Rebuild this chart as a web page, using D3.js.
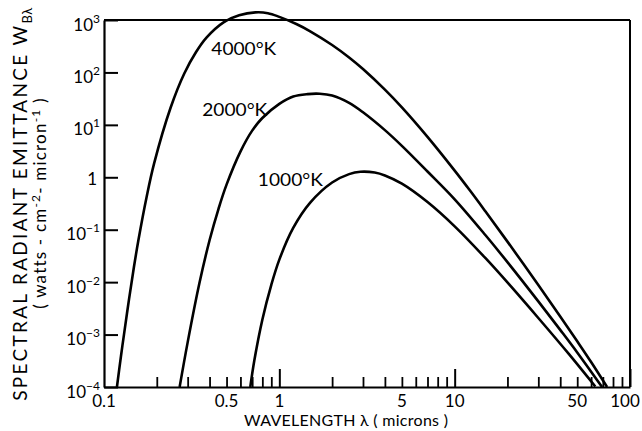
<!DOCTYPE html>
<html><head><meta charset="utf-8">
<script src="https://cdn.jsdelivr.net/npm/d3@7"></script>
<style>
body{margin:0;background:#fff}
svg{display:block;background:#fff}
text{font-family:Lato,"Noto Sans",sans-serif;fill:#000}
</style>
</head><body>
<svg id="c" width="642" height="431"></svg>
<script>
// ---- data ----
const temps = ["4000°K", "2000°K", "1000°K"];
const lam4000 = [0.1185, 0.125, 0.13, 0.139, 0.148, 0.157, 0.175, 0.193, 0.24, 0.287, 0.335, 0.383, 0.483, 0.59, 0.73, 0.86, 1.0, 1.25, 1.5, 2.0, 2.5, 3.0, 4.0, 5.0, 7.0, 10, 12.2, 15, 20, 30, 40, 50, 60, 74];
const w4000   = [1.0e-4, 3.9e-4, 1.0e-3, 4.8e-3, 0.019, 0.062, 0.42, 1.82, 21.4, 95.5, 245, 457, 912, 1230, 1396, 1349, 1148, 840, 610, 334, 193, 116, 46.9, 21.5, 5.89, 1.34, 0.564, 0.222, 0.0593, 0.0088, 0.00222, 7.43e-4, 2.99e-4, 1.0e-4];
const lam2000 = [0.270, 0.3, 0.35, 0.4, 0.45, 0.5, 0.6, 0.7, 0.8, 1.0, 1.2, 1.45, 1.7, 2.0, 2.5, 3.0, 4.0, 5.0, 7.0, 10, 15, 20, 30, 40, 50, 69.3];
const w2000   = [1.0e-4, 7.1e-4, 9.5e-3, 0.063, 0.251, 0.724, 3.09, 7.76, 13.5, 25.1, 34.7, 38.6, 39.2, 36.3, 26.3, 17.4, 7.94, 3.98, 1.29, 0.380, 0.0783, 0.0241, 0.0043, 0.00123, 4.57e-4, 1.0e-4];
const lam1000 = [0.683, 0.72, 0.8, 0.9, 1.0, 1.2, 1.5, 2.0, 2.5, 2.9, 3.5, 4.0, 5.0, 7.0, 10, 15, 20, 30, 45, 63.4];
const w1000   = [1.0e-4, 3.19e-4, 1.92e-3, 8.89e-3, 0.0269, 0.108, 0.328, 0.794, 1.148, 1.274, 1.230, 1.084, 0.755, 0.337, 0.116, 0.0286, 0.00986, 0.00207, 4.18e-4, 1.02e-4];

const xTickValues = [0.1, 0.5, 1, 5, 10, 50, 100];
const xTickLabels = ["0.1", "0.5", "1", "5", "10", "50", "100"];
const xMajor = [1, 10, 100];
const xMinor = [0.2,0.3,0.4,0.5,0.6,0.7,0.8,0.9,2,3,4,5,6,7,8,9,20,30,40,50,60,70,80,90];
const yExponents = [3, 2, 1, 0, -1, -2, -3, -4];

// ---- layout ----
const svg = d3.select("#c");
const x = d3.scaleLog().domain([0.1, 100]).range([104, 630]);
const y = d3.scaleLog().domain([1e-4, 1e3]).range([387, 20]);
const X0 = 104, X1 = 630, Y0 = 387, Y1 = 20;

// frame
const frame = svg.append("g").attr("stroke", "#000").attr("stroke-width", 2).attr("fill", "none");
frame.append("line").attr("x1", X0).attr("x2", X1).attr("y1", Y1).attr("y2", Y1);
frame.append("line").attr("x1", X1).attr("x2", X1).attr("y1", Y1).attr("y2", Y0);

// y axis (ticks pointing inward)
const yAxis = d3.axisLeft(y).tickValues(yExponents.map(e => Math.pow(10, e)))
  .tickSizeInner(-14).tickSizeOuter(0).tickFormat("");
const gy = svg.append("g").attr("transform", `translate(${X0},0)`).call(yAxis);
gy.select(".domain").attr("stroke-width", 2.2);
gy.selectAll(".tick line").attr("stroke-width", 2);

// x axis minor & major ticks
const gxMin = svg.append("g").attr("transform", `translate(0,${Y0})`)
  .call(d3.axisBottom(x).tickValues(xMinor).tickSizeInner(-10).tickSizeOuter(0).tickFormat(""));
gxMin.select(".domain").attr("stroke-width", 2.2);
gxMin.selectAll(".tick line").attr("stroke-width", 1.8);
const gxMaj = svg.append("g").attr("transform", `translate(0,${Y0})`)
  .call(d3.axisBottom(x).tickValues(xMajor).tickSizeInner(-18).tickSizeOuter(0).tickFormat(""));
gxMaj.select(".domain").remove();
gxMaj.selectAll(".tick line").attr("stroke-width", 2);

// y tick labels
yExponents.forEach(e => {
  const yy = y(Math.pow(10, e));
  if (e === 0) {
    svg.append("text").attr("x", 97).attr("y", yy + 7.5).attr("text-anchor", "end")
      .style("font-size", "17px").text("1");
  } else {
    const t = svg.append("text").attr("x", 100).attr("y", yy + 10.5).attr("text-anchor", "end")
      .style("font-size", "17px");
    t.append("tspan").text("10");
    t.append("tspan").attr("dy", -8).style("font-size", "12px").text(e < 0 ? "\u2212" + (-e) : String(e));
  }
});

// x tick labels
xTickValues.forEach((v, i) => {
  const px = v === 100 ? x(v) - 5 : x(v);
  svg.append("text").attr("x", px).attr("y", 407).attr("text-anchor", "middle")
    .style("font-size", "17px").text(xTickLabels[i]);
});

// axis titles
svg.append("text").attr("x", 346).attr("y", 426).attr("text-anchor", "middle")
  .style("font-size", "16px").attr("textLength", 204).attr("lengthAdjust", "spacing")
  .text("WAVELENGTH λ ( microns )");

const yt1 = svg.append("text").attr("transform", "translate(27,204) rotate(-90)")
  .attr("text-anchor", "middle").style("font-size", "19px").style("letter-spacing", "2.3px");
yt1.append("tspan").text("SPECTRAL RADIANT EMITTANCE W");
yt1.append("tspan").attr("dy", 5).style("font-size", "13px").style("letter-spacing", "0.5px").text("Bλ");

const yt2 = svg.append("text").attr("transform", "translate(46,203) rotate(-90)")
  .attr("text-anchor", "middle").style("font-size", "17px").style("letter-spacing", "1.2px");
yt2.append("tspan").text("( watts - cm");
yt2.append("tspan").attr("dy", -6).style("font-size", "12px").text("-2");
yt2.append("tspan").attr("dy", 6).text("- micron");
yt2.append("tspan").attr("dy", -6).style("font-size", "12px").text("-1");
yt2.append("tspan").attr("dy", 6).text(" )");

// curves
const series = [
  {lam: lam4000, w: w4000},
  {lam: lam2000, w: w2000},
  {lam: lam1000, w: w1000}
];
const line = d3.line().x(d => x(d[0])).y(d => y(d[1])).curve(d3.curveCatmullRom.alpha(0.5));
series.forEach(s => {
  svg.append("path").datum(s.lam.map((l, i) => [l, s.w[i]]))
    .attr("d", line).attr("fill", "none").attr("stroke", "#000").attr("stroke-width", 2.6)
    .attr("stroke-linejoin", "round");
});

// curve labels (anchored in data coordinates)
const labelAnchors = [[0.627, 290], [0.557, 19.8], [1.156, 0.89]];
temps.forEach((t, i) => {
  svg.append("text").attr("x", x(labelAnchors[i][0])).attr("y", y(labelAnchors[i][1]) + 6.5)
    .attr("text-anchor", "middle").style("font-size", "18px")
    .attr("textLength", 65).attr("lengthAdjust", "spacingAndGlyphs").text(t);
});
</script>
</body></html>
